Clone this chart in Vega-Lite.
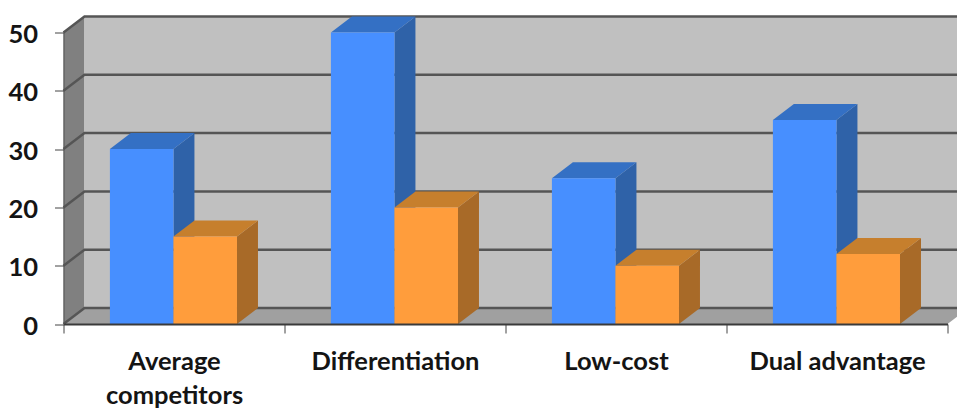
{
  "$schema": "https://vega.github.io/schema/vega-lite/v6.json",
  "width": 884,
  "height": 291.5,
  "autosize": "none",
  "padding": {"left": 63.5, "top": 32.5, "right": 9.5, "bottom": 84},
  "background": "white",
  "config": {"view": {"stroke": null}},
  "datasets": {
    "bars": [
      {"group": 0, "series": "Series 1", "value": 30},
      {"group": 0, "series": "Series 2", "value": 15},
      {"group": 1, "series": "Series 1", "value": 50},
      {"group": 1, "series": "Series 2", "value": 20},
      {"group": 2, "series": "Series 1", "value": 25},
      {"group": 2, "series": "Series 2", "value": 10},
      {"group": 3, "series": "Series 1", "value": 35},
      {"group": 3, "series": "Series 2", "value": 12}
    ],
    "ticks": [
      {"tick": 0}, {"tick": 10}, {"tick": 20}, {"tick": 30}, {"tick": 40}, {"tick": 50}
    ],
    "depths": [{"depth": 0}, {"depth": 1}]
  },
  "encoding": {
    "x": {
      "field": "px",
      "type": "quantitative",
      "stack": null,
      "title": null,
      "scale": {"domain": [0, 4], "nice": false, "zero": false},
      "axis": {
        "values": [0, 0.5, 1, 1.5, 2, 2.5, 3, 3.5, 4],
        "labelExpr": "datum.value === 0.5 ? ['Average', 'competitors'] : datum.value === 1.5 ? 'Differentiation' : datum.value === 2.5 ? 'Low-cost' : datum.value === 3.5 ? 'Dual advantage' : ''",
        "grid": false,
        "zindex": 1,
        "domainColor": "#3a3a3a",
        "domainWidth": 2,
        "tickColor": {"condition": {"test": "datum.value % 1 !== 0", "value": "transparent"}, "value": "#444444"},
        "tickSize": 9,
        "tickWidth": 1,
        "labelFont": "Lato",
        "labelFontWeight": "bold",
        "labelFontSize": 25.5,
        "labelColor": "#141414",
        "labelPadding": 16,
        "labelLineHeight": 34,
        "labelOverlap": false,
        "labelFlush": false,
        "labelBound": false,
        "labelAngle": 0
      }
    },
    "y": {
      "field": "py",
      "type": "quantitative",
      "stack": null,
      "title": null,
      "scale": {"domain": [0, 50], "nice": false, "zero": false},
      "axis": {
        "values": [0, 10, 20, 30, 40, 50],
        "grid": false,
        "zindex": 1,
        "domainColor": "#555555",
        "domainWidth": 1,
        "tickColor": "#444444",
        "tickSize": 9,
        "tickWidth": 1,
        "labelFont": "Lato",
        "labelFontWeight": "bold",
        "labelFontSize": 25.5,
        "labelColor": "#141414",
        "labelPadding": 17,
        "labelOffset": 2
      }
    }
  },
  "layer": [
    {
      "description": "Left side wall of the chart box",
      "data": {"name": "depths"},
      "transform": [
        {"calculate": "datum.depth * 0.095", "as": "px"},
        {"calculate": "datum.depth * 2.745", "as": "py"},
        {"calculate": "50 + datum.depth * 2.745", "as": "py2"}
      ],
      "mark": {"type": "area", "orient": "vertical", "color": "#808080"},
      "encoding": {"y2": {"field": "py2"}}
    },
    {
      "description": "Back wall",
      "data": {"name": "depths"},
      "transform": [
        {"filter": "datum.depth === 1"},
        {"calculate": "0.095", "as": "px"},
        {"calculate": "4.095", "as": "px2"},
        {"calculate": "2.745", "as": "py"},
        {"calculate": "52.745", "as": "py2"}
      ],
      "mark": {"type": "rect", "color": "#c0c0c0"},
      "encoding": {"x2": {"field": "px2"}, "y2": {"field": "py2"}}
    },
    {
      "description": "Floor",
      "data": {"name": "depths"},
      "transform": [
        {"calculate": "datum.depth * 0.095", "as": "px"},
        {"calculate": "4 + datum.depth * 0.095", "as": "px2"},
        {"calculate": "datum.depth * 2.745", "as": "py"}
      ],
      "mark": {"type": "area", "orient": "horizontal", "color": "#a0a0a0"},
      "encoding": {"x2": {"field": "px2"}}
    },
    {
      "description": "Gridlines running along the side wall and across the back wall",
      "data": {"name": "ticks"},
      "transform": [
        {"calculate": "[0, 1, 2]", "as": "stop"},
        {"flatten": ["stop"]},
        {"calculate": "datum.stop === 0 ? 0 : datum.stop === 1 ? 0.095 : 4.095", "as": "px"},
        {"calculate": "datum.tick + (datum.stop > 0 ? 2.745 : 0)", "as": "py"}
      ],
      "mark": {"type": "line", "color": "#555555", "strokeWidth": 2.5},
      "encoding": {
        "detail": {"field": "tick"},
        "order": {"field": "stop"}
      }
    },
    {
      "description": "Right-hand faces of the bars",
      "data": {"name": "bars"},
      "transform": [
        {"calculate": "[0, 1]", "as": "depth"},
        {"flatten": ["depth"]},
        {"calculate": "datum.group + 0.21 + (datum.series === 'Series 1' ? 1 : 2) * 0.2875 + datum.depth * 0.095", "as": "px"},
        {"calculate": "datum.depth * 2.745", "as": "py"},
        {"calculate": "datum.value + datum.depth * 2.745", "as": "py2"},
        {"calculate": "datum.group + datum.series", "as": "bar"}
      ],
      "mark": {"type": "area", "orient": "vertical"},
      "encoding": {
        "y2": {"field": "py2"},
        "detail": {"field": "bar"},
        "color": {
          "field": "series",
          "type": "nominal",
          "legend": null,
          "scale": {"domain": ["Series 1", "Series 2"], "range": ["#2f62a8", "#a86a28"]}
        }
      }
    },
    {
      "description": "Top faces of the bars",
      "data": {"name": "bars"},
      "transform": [
        {"calculate": "[0, 1]", "as": "depth"},
        {"flatten": ["depth"]},
        {"calculate": "datum.group + 0.21 + (datum.series === 'Series 1' ? 0 : 1) * 0.2875 + datum.depth * 0.095", "as": "px"},
        {"calculate": "datum.px + 0.2875", "as": "px2"},
        {"calculate": "datum.value + datum.depth * 2.745", "as": "py"},
        {"calculate": "datum.group + datum.series", "as": "bar"}
      ],
      "mark": {"type": "area", "orient": "horizontal"},
      "encoding": {
        "x2": {"field": "px2"},
        "detail": {"field": "bar"},
        "color": {
          "field": "series",
          "type": "nominal",
          "legend": null,
          "scale": {"domain": ["Series 1", "Series 2"], "range": ["#3470c4", "#c67f2d"]}
        }
      }
    },
    {
      "description": "Front faces of the bars",
      "data": {"name": "bars"},
      "transform": [
        {"calculate": "datum.group + 0.21 + (datum.series === 'Series 1' ? 0 : 1) * 0.2875", "as": "px"},
        {"calculate": "datum.px + 0.2875", "as": "px2"},
        {"calculate": "datum.value", "as": "py"},
        {"calculate": "0", "as": "py2"}
      ],
      "mark": {"type": "rect"},
      "encoding": {
        "x2": {"field": "px2"},
        "y2": {"field": "py2"},
        "color": {
          "field": "series",
          "type": "nominal",
          "legend": null,
          "scale": {"domain": ["Series 1", "Series 2"], "range": ["#478fff", "#ff9d3c"]}
        }
      }
    }
  ],
  "resolve": {"scale": {"color": "independent"}}
}
